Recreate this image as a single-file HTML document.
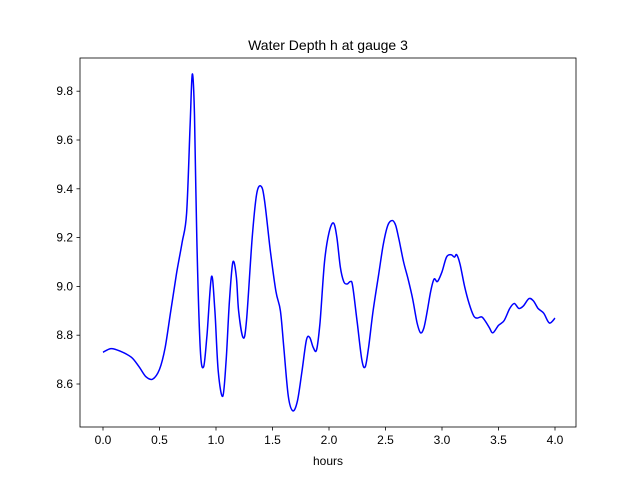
<!DOCTYPE html>
<html><head><meta charset="utf-8"><style>
body{margin:0;background:#fff;}
svg text{font-family:"Liberation Sans","DejaVu Sans",sans-serif;fill:#000;}
</style></head><body>
<svg id="chart" width="640" height="480" viewBox="0 0 640 480" xmlns="http://www.w3.org/2000/svg">
<rect width="640" height="480" fill="#fff"/>
<text x="328" y="50" font-size="14" text-anchor="middle">Water Depth h at gauge 3</text>
<g id="axes"></g>
<text x="328" y="465" font-size="12" text-anchor="middle">hours</text>
</svg>
<script>
const times=[0.0,0.07,0.15,0.25,0.32,0.38,0.44,0.5,0.55,0.6,0.65,0.7,0.74,0.77,0.79,0.81,0.83,0.86,0.89,0.92,0.96,0.99,1.02,1.06,1.09,1.12,1.15,1.18,1.2,1.24,1.27,1.32,1.36,1.4,1.43,1.48,1.53,1.57,1.6,1.64,1.68,1.72,1.76,1.8,1.83,1.86,1.89,1.92,1.96,2.0,2.04,2.07,2.1,2.13,2.16,2.19,2.21,2.25,2.29,2.32,2.35,2.39,2.44,2.48,2.52,2.56,2.59,2.62,2.66,2.7,2.74,2.78,2.81,2.84,2.87,2.9,2.93,2.96,3.0,3.04,3.08,3.11,3.13,3.16,3.2,3.24,3.28,3.31,3.35,3.38,3.42,3.45,3.5,3.55,3.6,3.64,3.68,3.72,3.77,3.81,3.85,3.9,3.95,4.0];
const depths=[8.73,8.745,8.735,8.71,8.67,8.63,8.62,8.66,8.75,8.9,9.05,9.18,9.3,9.65,9.87,9.7,9.2,8.75,8.67,8.8,9.04,8.9,8.65,8.55,8.7,8.95,9.1,9.04,8.9,8.79,8.86,9.2,9.38,9.41,9.35,9.15,8.98,8.9,8.75,8.55,8.49,8.53,8.65,8.78,8.79,8.75,8.74,8.85,9.1,9.22,9.26,9.2,9.08,9.02,9.01,9.02,9.0,8.85,8.7,8.67,8.75,8.9,9.05,9.17,9.25,9.27,9.25,9.19,9.1,9.03,8.95,8.85,8.81,8.83,8.9,8.98,9.03,9.02,9.06,9.12,9.13,9.12,9.13,9.09,9.0,8.93,8.88,8.87,8.875,8.86,8.83,8.81,8.84,8.86,8.91,8.93,8.91,8.92,8.95,8.94,8.91,8.89,8.85,8.87];
const xTicks=[0.0,0.5,1.0,1.5,2.0,2.5,3.0,3.5,4.0];
const yTicks=[8.6,8.8,9.0,9.2,9.4,9.6,9.8];
const NS="http://www.w3.org/2000/svg";
const L=80,R=576,T=58,B=427;
function xs(v){return 103+v*113;}
function ys(v){return 384-(v-8.6)*244;}
const g=document.getElementById('axes');
function mk(tag,attrs){const e=document.createElementNS(NS,tag);for(const k in attrs)e.setAttribute(k,attrs[k]);g.appendChild(e);return e;}
const P=times.map((t,i)=>[xs(t),ys(depths[i])]);
let d='M'+P[0][0].toFixed(1)+','+P[0][1].toFixed(1);
for(let i=0;i<P.length-1;i++){
  const p0=P[Math.max(0,i-1)],p1=P[i],p2=P[i+1],p3=P[Math.min(P.length-1,i+2)];
  const c1=[p1[0]+(p2[0]-p0[0])/6,p1[1]+(p2[1]-p0[1])/6];
  const c2=[p2[0]-(p3[0]-p1[0])/6,p2[1]-(p3[1]-p1[1])/6];
  d+=' C'+c1[0].toFixed(1)+','+c1[1].toFixed(1)+' '+c2[0].toFixed(1)+','+c2[1].toFixed(1)+' '+p2[0].toFixed(1)+','+p2[1].toFixed(1);
}
const line=mk('path',{d:d,fill:'none',stroke:'#0000ff','stroke-width':1.5,'stroke-linejoin':'round'});


const frame=mk('rect',{x:L,y:T,width:R-L,height:B-T,fill:'none',stroke:'#000','stroke-width':0.8});


xTicks.forEach(v=>{
  const x=xs(v);
  const tk=mk('line',{x1:x,x2:x,y1:B,y2:B+3.5,stroke:'#000','stroke-width':0.8});
  
  
  const tx=mk('text',{x:x,y:B+17,'font-size':12,'text-anchor':'middle'});
  tx.textContent=v.toFixed(1);
  
  
});
yTicks.forEach(v=>{
  const y=ys(v);
  const tk=mk('line',{x1:L-3.5,x2:L,y1:y,y2:y,stroke:'#000','stroke-width':0.8});
  
  
  const tx=mk('text',{x:L-7,y:y+4,'font-size':12,'text-anchor':'end'});
  tx.textContent=v.toFixed(1);
  
  
});
</script>
</body></html>
